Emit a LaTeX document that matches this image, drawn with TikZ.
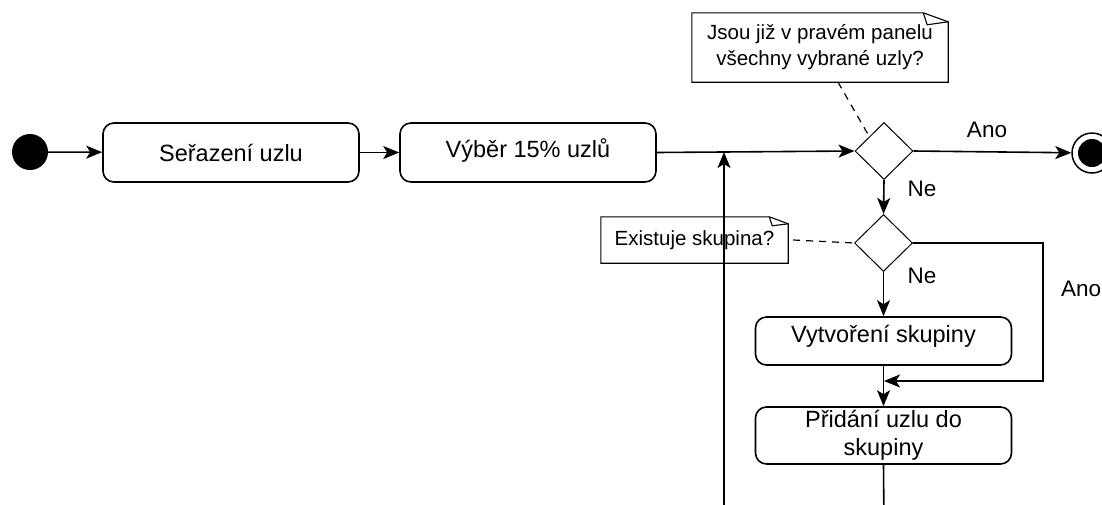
\documentclass[tikz,border=0pt]{standalone}
\usepackage{fontspec}
\setmainfont{Liberation Sans}
\usetikzlibrary{arrows.meta,shapes.geometric}

\begin{document}
\begin{tikzpicture}[x=1pt,y=-1pt,
  action/.style={draw, line width=1.6pt, rounded corners=11pt,
    minimum width=256pt, minimum height=59pt, inner sep=0pt, align=center,
    font=\fontsize{23.5}{28}\selectfont},
  decision/.style={draw, diamond, line width=1pt, inner sep=0pt,
    minimum width=58pt, minimum height=57pt},
  notetext/.style={inner sep=0pt, align=center, font=\fontsize{20.5}{26}\selectfont},
  noteline/.style={line width=1.1pt, line join=miter},
  flow/.style={line width=1.6pt, -{Stealth[length=16pt,width=13pt,inset=4pt]}},
  plain/.style={line width=1.6pt},
  hint/.style={line width=1.2pt, dash pattern=on 7pt off 6pt},
  guard/.style={inner sep=0pt, font=\fontsize{22.5}{27}\selectfont},
]
\clip (0,0) rectangle (1102,504);

% start and end states
\node[circle, fill=black, minimum size=36pt, inner sep=0pt] (start) at (30,152) {};
\node[circle, draw, line width=1.5pt, minimum size=40pt, inner sep=0pt] (end) at (1092,153) {};
\node[circle, fill=black, minimum size=28pt, inner sep=0pt] (endin) at (1092,153) {};

% actions
\node[action] (sort) at (231,152.5) {Seřazení uzlu};
\node[action, text depth=8pt] (pick) at (528,152.5) {Výběr 15\% uzlů};
\node[action, minimum height=48pt, text depth=15pt] (create) at (883.5,341) {Vytvoření skupiny};
\node[action, minimum height=57pt] (add) at (883.5,435.5) {Přidání uzlu do\\skupiny};

% decisions
\node[decision] (d1) at (884,151) {};
\node[decision] (d2) at (883.5,243) {};

% notes with folded corner
\node[notetext, minimum width=256pt, minimum height=69pt] (n1) at (820,47.5)
  {Jsou již v pravém panelu\\všechny vybrané uzly?};
\draw[noteline] (n1.south west) -- (n1.north west) -- ([xshift=-25pt]n1.north east)
  -- ([yshift=-9pt]n1.north east) -- (n1.south east) -- cycle;
\draw[noteline] ([xshift=-25pt]n1.north east) -- ([xshift=-21pt,yshift=-12pt]n1.north east)
  -- ([yshift=-9pt]n1.north east);

\node[notetext, minimum width=187pt, minimum height=46pt] (n2) at (694.5,240) {Existuje skupina?};
\draw[noteline] (n2.south west) -- (n2.north west) -- ([xshift=-19pt]n2.north east)
  -- ([yshift=-7pt]n2.north east) -- (n2.south east) -- cycle;
\draw[noteline] ([xshift=-19pt]n2.north east) -- ([xshift=-16pt,yshift=-9pt]n2.north east)
  -- ([yshift=-7pt]n2.north east);

% helper points
\coordinate (join) at (724,152);
\coordinate (below) at (884,530);
\coordinate (loopbase) at (724,530);
\coordinate (yescorner) at (1043,381);
\coordinate (merge) at (884,381);

% connectors
\draw[flow] (start) -- (sort);
\draw[flow] (sort) -- (pick);
\draw[flow] (pick.east) -- (d1.west);
\draw[flow] (d1.east) -- (end);
\draw[flow] (d1.south) -- (d2.north);
\draw[flow] (d2.south) -- (create.north);
\draw[flow] (d2.east) -| (yescorner) -- (merge);
\draw[flow] (create.south) -- (add.north);
\draw[plain] (add.south) -- (below) -- (loopbase);
\draw[flow] (loopbase) -- (join);

% note links
\draw[hint] ([xshift=18pt]n1.south) -- (d1.north west);
\draw[hint] ([xshift=5pt]n2.east) -- (d2.west);

% guards
\node[guard] (g1) at (987,130) {Ano};
\node[guard] (g2) at (922,188.5) {Ne};
\node[guard] (g3) at (922,275.5) {Ne};
\node[guard, anchor=west] (g4) at (1061,289) {Ano};
\end{tikzpicture}
\end{document}
